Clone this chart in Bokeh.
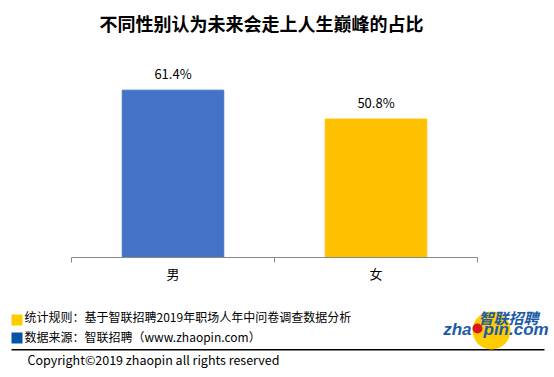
from bokeh.plotting import figure
from bokeh.models import Range1d, Label, BoxAnnotation, ColumnDataSource
from bokeh.core.properties import value
from bokeh.embed import file_html
from bokeh.resources import INLINE

# ---- data ----
title_text = "不同性别认为未来会走上人生巅峰的占比"
categories = ["男", "女"]
shares = [61.4, 50.8]
bar_colors = ["#4472C4", "#FFC000"]
note_rule = "统计规则：基于智联招聘2019年职场人年中问卷调查数据分析"
note_source = "数据来源：智联招聘（www.zhaopin.com）"
copyright_text = "Copyright©2019 zhaopin all rights reserved"

FONT = "Noto Sans CJK SC"
W, H = 554, 377
# plot area in page pixels
AX_L, AX_R, AX_BASE = 71, 477, 257
PX_PER_UNIT = 2.725          # vertical pixels per percentage point
TICK_LEN = 5

n = len(categories)
cat_w = (AX_R - AX_L) / n
x_start = -AX_L / cat_w
x_end = n + (W - AX_R) / cat_w
y_end = AX_BASE / PX_PER_UNIT
y_start = -(H - AX_BASE) / PX_PER_UNIT

centers = [i + 0.5 for i in range(n)]
edges = list(range(n + 1))

p = figure(width=W, height=H, x_range=Range1d(x_start, x_end), y_range=Range1d(y_start, y_end),
           output_backend="svg", toolbar_location=None, title=None,
           x_axis_location=None, y_axis_location=None, min_border=0)
p.outline_line_color = None
for g in p.grid:
    g.visible = False
p.background_fill_color = "white"
p.border_fill_color = "white"

# page-pixel ranges for the decoration (title, notes, logo)
p.extra_x_ranges = {"px": Range1d(0, W)}
p.extra_y_ranges = {"px": Range1d(H, 0)}

src = ColumnDataSource(dict(x=centers, cat=categories, share=shares, color=bar_colors,
                            label=[f"{v}%" for v in shares]))
p.vbar(x="x", top="share", width=0.5, color="color", source=src)
p.text(x="x", y="share", text="label", source=src, text_align="center",
       text_baseline="middle", y_offset=-17, text_font=value(FONT),
       text_font_size="13px", text_color="#000000")

# category axis: line, boundary ticks, labels
p.segment(x0=[edges[0]], y0=[0], x1=[edges[-1]], y1=[0], line_color="#898989", line_width=1)
p.segment(x0=edges, y0=[0] * len(edges), x1=edges, y1=[-TICK_LEN / PX_PER_UNIT] * len(edges),
          line_color="#898989", line_width=1)
p.text(x=centers, y=[0] * n, text=categories, text_align="center", text_baseline="middle",
       y_offset=16, text_font=value(FONT), text_font_size="13px", text_color="#000000")


def px_label(text, x, y, size, align="left", style="normal", color="#000000", font=FONT):
    p.add_layout(Label(x=x, y=y, x_range_name="px", y_range_name="px", text=text,
                       text_font=font, text_font_size=size, text_font_style=style,
                       text_align=align, text_baseline="middle", text_color=color))


def px_box(l, r, t, b, color, radius=0):
    p.add_layout(BoxAnnotation(left=l, right=r, top=t, bottom=b,
                               x_range_name="px", y_range_name="px",
                               fill_color=color, fill_alpha=1, line_color=None,
                               border_radius=radius))


px_label(title_text, 261, 22, "18px", align="center", style="bold")

px_box(11, 22, 314, 325, "#FFCC00")
px_box(11, 22, 332, 343, "#0054A6")
px_label(note_rule, 24, 316, "12px")
px_label(note_source, 24, 336, "12px")
px_box(11, 544, 348.5, 350, "#000000")
px_label(copyright_text, 27, 359, "12.5px")

# logo
px_box(472, 510, 311, 349, "#FFCC00", radius=19)
px_box(472, 482, 323, 333, "#D7191C", radius=5)
px_label("zha", 471, 329, "17px", align="right", style="bold italic", color="#1B5BA8",
         font="Liberation Sans")
px_label("pin.com", 483, 329, "17px", align="left", style="bold italic", color="#1B5BA8",
         font="Liberation Sans")
px_label("智联招聘", 508, 317, "15px", align="center", style="bold italic", color="#1B5BA8")

open("out.html", "w").write(file_html(p, INLINE))
